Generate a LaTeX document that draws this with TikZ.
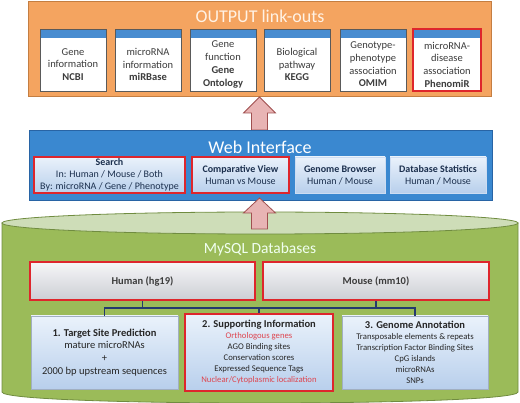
\documentclass[tikz,border=0pt]{standalone}
\usepackage{fontspec}
\setmainfont{Carlito}
\usepackage{xcolor}
\definecolor{outorange}{RGB}{244,164,96}
\definecolor{outedge}{RGB}{196,126,66}
\definecolor{webblue}{RGB}{58,136,208}
\definecolor{webedge}{RGB}{40,100,165}
\definecolor{hdrblue}{RGB}{72,140,208}
\definecolor{linkedge}{RGB}{90,90,90}
\definecolor{txtgray}{RGB}{60,60,60}
\definecolor{txtnavy}{RGB}{28,48,78}
\definecolor{dbgreen}{RGB}{155,187,89}
\definecolor{dbedge}{RGB}{112,140,64}
\definecolor{dbtop}{RGB}{206,221,184}
\definecolor{hlred}{RGB}{222,38,44}
\definecolor{redtxt}{RGB}{222,70,80}
\definecolor{busnavy}{RGB}{36,58,110}
\definecolor{arrowfill}{RGB}{232,180,180}
\definecolor{arrowedge}{RGB}{160,80,80}
\definecolor{paleblue}{RGB}{234,242,251}
\definecolor{midblue}{RGB}{184,207,236}
\definecolor{palegray}{RGB}{246,246,248}
\definecolor{midgray}{RGB}{204,206,212}

\tikzset{
  panel/.style={line width=0.8pt},
  title/.style={font=\fontsize{18}{20}\selectfont},
  linkbox/.style={draw=linkedge, fill=white, line width=0.8pt, minimum width=66pt,
    minimum height=62pt, inner sep=0pt,
    path picture={\fill[hdrblue] (path picture bounding box.north west)
      rectangle ([yshift=-9pt]path picture bounding box.north east);}},
  linktext/.style={align=center, inner sep=0pt, text=txtgray,
    font=\fontsize{10.5}{12.7}\selectfont},
  webbox/.style={draw=midblue!70!white, top color=paleblue, bottom color=midblue,
    minimum height=36pt, inner sep=0pt, align=center, text=txtnavy,
    font=\fontsize{10}{12}\selectfont},
  genome/.style={draw=hlred, line width=1.6pt, top color=palegray, bottom color=midgray,
    minimum width=225pt, minimum height=38pt, inner sep=0pt, text=txtgray,
    font=\fontsize{10.5}{12}\selectfont\bfseries},
  infobox/.style={draw=midblue!60!gray, top color=paleblue, bottom color=midblue,
    minimum width=147pt, minimum height=73pt, inner sep=0pt, align=center, text=black!85,
    font=\fontsize{8.7}{11}\selectfont},
  hilite/.style={draw=hlred, line width=1.6pt},
  uparrow/.style={fill=arrowfill, draw=arrowedge, line width=0.8pt, line join=miter},
  bus/.style={draw=busnavy, line width=1.2pt}
}

\begin{document}
\begin{tikzpicture}[x=1pt, y=-1pt]
\useasboundingbox (0,0) rectangle (520,403);

% output link-outs
\draw[panel, fill=outorange, draw=outedge] (28,1) rectangle (491,96);
\node[title, text=white!90!orange] (outtitle) at (260,16) {OUTPUT link-outs};
\node[linkbox] (ncbi) at (73,60) {};
\node[linkbox] (mirbase) at (148,60) {};
\node[linkbox] (geneont) at (223,60) {};
\node[linkbox] (kegg) at (297,60) {};
\node[linkbox] (omim) at (373,60) {};
\node[linkbox, hilite, minimum width=68pt] (phenomir) at (447,60) {};
\node[linktext] (ncbi-t) at ([yshift=-4.5pt]ncbi.center) {Gene\\information\\\textbf{NCBI}};
\node[linktext] (mirbase-t) at ([yshift=-4.5pt]mirbase.center) {microRNA\\information\\\textbf{miRBase}};
\node[linktext] (geneont-t) at ([yshift=-4.5pt]geneont.center) {Gene\\function\\\textbf{Gene}\\\textbf{Ontology}};
\node[linktext] (kegg-t) at ([yshift=-4.5pt]kegg.center) {Biological\\pathway\\\textbf{KEGG}};
\node[linktext] (omim-t) at ([yshift=-4.5pt]omim.center) {Genotype-\\phenotype\\association\\\textbf{OMIM}};
\node[linktext] (phenomir-t) at ([yshift=-4.5pt]phenomir.center) {microRNA-\\disease\\association\\\textbf{PhenomiR}};

% arrow web -> output
\draw[uparrow] (251.5,130) -- (251.5,113) -- (243.5,113) -- (259.5,97)
  -- (275.5,113) -- (267.5,113) -- (267.5,130) -- cycle;

% web interface
\draw[panel, fill=webblue, draw=webedge] (29,130) rectangle (492,200);
\node[title, text=white] (webtitle) at (260,147) {Web Interface};
\node[webbox, hilite, minimum width=151pt] (search) at (109.5,175)
  {\textbf{Search}\\In: Human / Mouse / Both\\By: microRNA / Gene / Phenotype};
\node[webbox, hilite, minimum width=97pt] (compare) at (240.5,175)
  {\textbf{Comparative View}\\Human vs Mouse};
\node[webbox, minimum width=90pt] (browser) at (340,175)
  {\textbf{Genome Browser}\\Human / Mouse};
\node[webbox, minimum width=96pt] (stats) at (438,175)
  {\textbf{Database Statistics}\\Human / Mouse};

% database cylinder
\draw[fill=dbgreen, draw=dbedge, line width=0.8pt] (2,223) -- (2,392)
  .. controls (2,406.7) and (518,406.7) .. (518,392) -- (518,223) -- cycle;
\draw[fill=dbtop, draw=dbedge, line width=0.8pt] (260,223) ellipse [x radius=258, y radius=11];

% arrow db -> web
\draw[uparrow] (251.5,229) -- (251.5,213) -- (243.5,213) -- (259.5,198)
  -- (275.5,213) -- (267.5,213) -- (267.5,229) -- cycle;

\node[font=\fontsize{15.5}{18}\selectfont, text=white!94!green] (dbtitle) at (260,249) {MySQL Databases};
\node[genome] (human) at (142.5,281) {Human (hg19)};
\node[genome, minimum width=226pt] (mouse) at (376,281) {Mouse (mm10)};

\node[infobox, font=\fontsize{10.5}{12.7}\selectfont] (target) at (104.5,352.5)
  {\textbf{1. Target Site Prediction}\\mature microRNAs\\+\\2000 bp upstream sequences};
\node[infobox, hilite, minimum width=148pt, minimum height=77pt] (support) at (259,352.5)
  {{\fontsize{10.5}{11}\selectfont\bfseries 2. Supporting Information}\\
   \textcolor{redtxt}{Orthologous genes}\\AGO Binding sites\\Conservation scores\\
   Expressed Sequence Tags\\\textcolor{redtxt}{Nuclear/Cytoplasmic localization}};
\node[infobox, minimum width=146pt] (annot) at (415,352.5)
  {{\fontsize{10.5}{11}\selectfont\bfseries 3. Genome Annotation}\\
   Transposable elements \& repeats\\Transcription Factor Binding Sites\\
   CpG islands\\microRNAs\\SNPs};

% connectors
\coordinate (busc) at (259,308);
\draw[bus] (human.south) -- (human.south |- busc);
\draw[bus] (mouse.south) -- (mouse.south |- busc);
\draw[bus] (target.north) |- (busc) -| (annot.north);
\draw[bus] (busc) -- (support.north);
\end{tikzpicture}
\end{document}
